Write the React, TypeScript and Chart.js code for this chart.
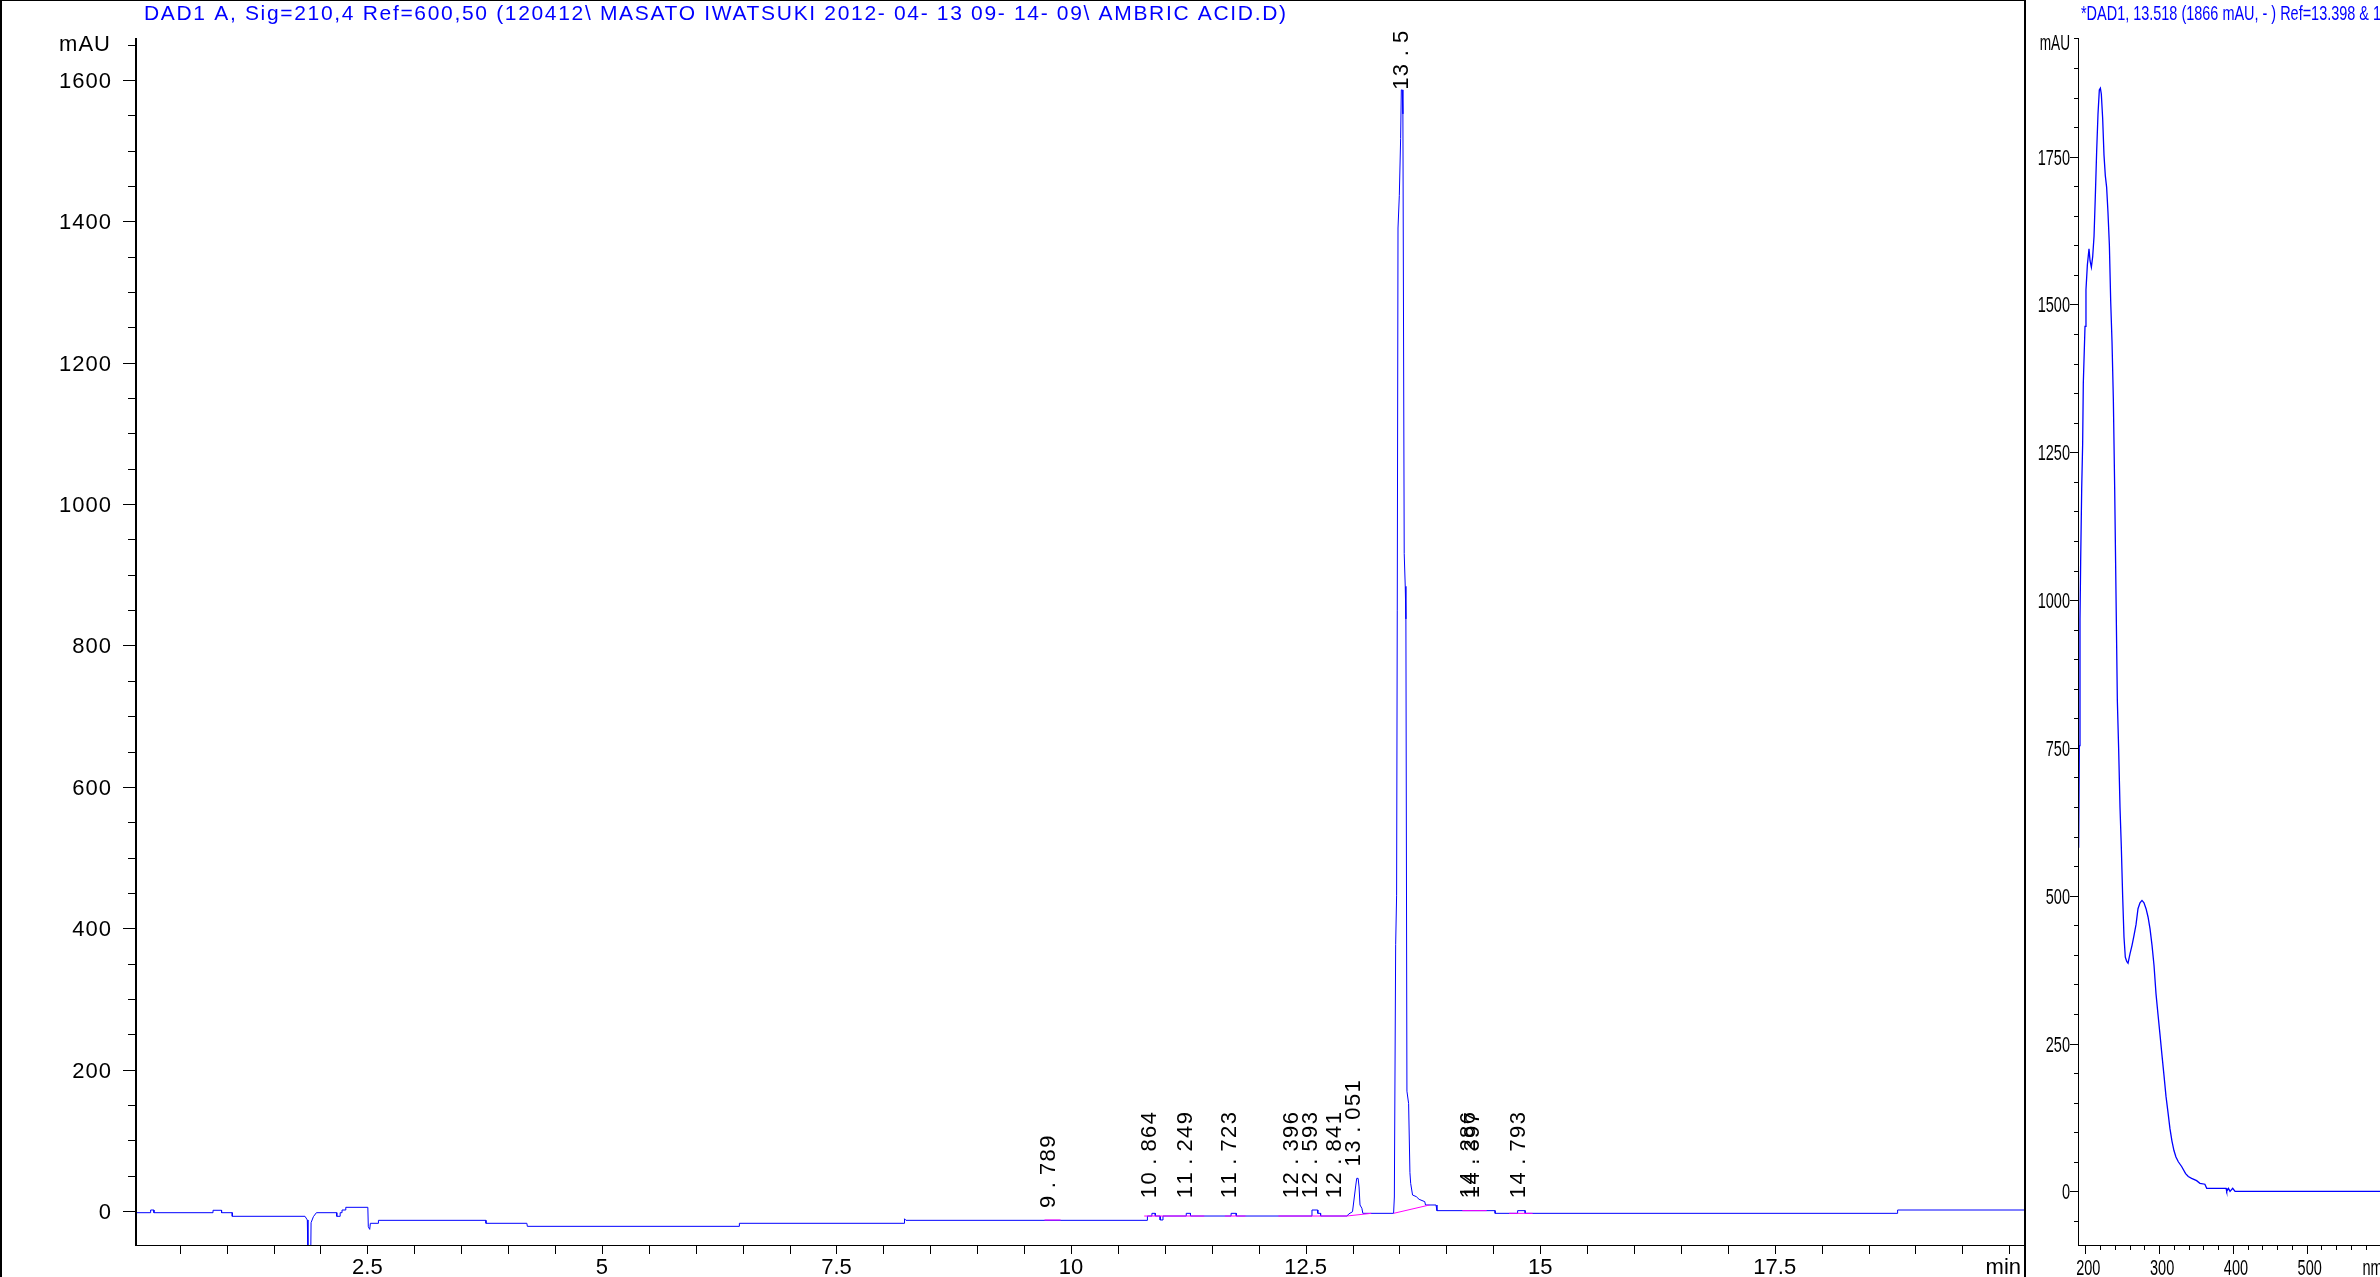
import React, { useEffect, useRef } from "react";
import { Chart, registerables } from "chart.js";

Chart.register(...registerables);

const FONT = '"Liberation Sans", Arial, sans-serif';
const BLUE = "#0000ff";
const PINK = "#ff00ff";

const chromTitle =
  "DAD1 A, Sig=210,4 Ref=600,50 (120412\\ MASATO IWATSUKI 2012- 04- 13 09- 14- 09\\ AMBRIC ACID.D)";
const specTitle = "*DAD1, 13.518 (1866 mAU, - ) Ref=13.398 & 1";

// Chromatogram (retention time in min, signal in mAU)
const chromTime = [
  0.034, 0.19, 0.19, 0.225, 0.225, 0.855, 0.855, 0.946, 0.946, 1.06,
  1.06, 1.835, 1.86, 1.867, 1.896, 1.9, 1.925, 1.957, 2.174, 2.174,
  2.21, 2.21, 2.23, 2.23, 2.27, 2.27, 2.505, 2.51, 2.525, 2.532,
  2.618, 2.618, 3.764, 3.764, 4.2, 4.205, 6.465, 6.465, 8.225, 8.225,
  8.24, 10.814, 10.814, 10.862, 10.862, 10.898, 10.898, 10.95, 10.95, 10.98,
  10.98, 11.228, 11.228, 11.273, 11.273, 11.706, 11.706, 11.761, 11.761, 12.568,
  12.568, 12.63, 12.63, 12.66, 12.66, 12.942, 12.96, 13.0, 13.034, 13.045,
  13.06, 13.07, 13.08, 13.1, 13.11, 13.438, 13.446, 13.46, 13.47, 13.477,
  13.485, 13.499, 13.513, 13.52, 13.53, 13.537, 13.551, 13.562, 13.569, 13.58,
  13.598, 13.612, 13.62, 13.64, 13.68, 13.71, 13.77, 13.778, 13.89, 13.9,
  14.52, 14.52, 14.76, 14.76, 14.84, 14.84, 18.81, 18.81, 20.157,
];
const chromSignal = [
  -2.4, -2.4, 1.4, 1.4, -2.4, -2.4, 1.0, 1.0, -2.4, -2.4,
  -7.5, -7.5, -12.7, -70, -70, -16.5, -8, -2.4, -2.4, -7.5,
  -7.5, -2.4, -2.4, 1.4, 1.4, 5.2, 5.2, -22.2, -26, -17.4,
  -17.4, -13.2, -13.2, -17.4, -17.4, -21.7, -21.7, -17.4, -17.4, -11,
  -13.2, -13.2, -7.1, -7.1, -3.3, -3.3, -7.1, -7.1, -12.7, -12.7,
  -7.1, -7.1, -3.3, -3.3, -7.1, -7.1, -3.3, -3.3, -7.1, -7.1,
  1.4, 1.4, -3.3, -3.3, -7.1, -7.1, -4.2, -1, 35.4, 46.2,
  46.2, 34, 8.5, 3.8, -3.3, -3.3, 19.8, 376.8, 445.9, 849,
  1390.6, 1436.7, 1517.3, 1586, 1586, 1552, 930, 883.7, 837.6, 169.5,
  152, 54.3, 39, 22.6, 20.3, 16.5, 13.2, 8.5, 8.5, 0.5,
  0.5, -3.3, -3.3, 0.5, 0.5, -3.3, -3.3, 1.4, 1.4,
];

// Integration baselines (null separates segments)
const baselineTime = [9.717, 9.889, null, 10.78, 11.42, null, 11.64, 11.86, null, 12.21, 12.94, 13.2, null, 13.438, 13.82, null, 14.17, 14.43, null, 14.67, 14.92];
const baselineSignal = [-12.7, -12.7, null, -7.1, -7.1, null, -7.1, -7.1, null, -7.1, -7.1, -3.3, null, -3.3, 8.5, null, 0.5, 0.5, null, -3.3, -3.3];

// Peak annotations
const peakLabels = ["9.789", "10.864", "11.249", "11.723", "12.396", "12.593", "12.841", "13.051", "13.518", "14.286", "14.397", "14.793"];
const peakLabelTime = [9.765, 10.839, 11.225, 11.694, 12.355, 12.558, 12.814, 13.016, 13.524, 14.246, 14.285, 14.778];
const peakLabelLevel = [4, 18, 18, 18, 18, 18, 18, 63, 1586, 18, 18, 18];

const chromYTicks = [0, 200, 400, 600, 800, 1000, 1200, 1400, 1600];
const chromXTicks = [2.5, 5, 7.5, 10, 12.5, 15, 17.5];
const chromXTickLabels = ["2.5", "5", "7.5", "10", "12.5", "15", "17.5"];

// UV spectrum at 13.518 min (wavelength nm, mAU)
const specWavelength = [
  191.0, 191.9, 192.8, 193.7, 195.1, 196.4, 197.3, 199.6, 200.9, 202.8,
  205.0, 206.4, 208.2, 210.0, 211.8, 213.6, 215.4, 217.2, 219.0, 220.4,
  221.7, 223.5, 225.3, 227.1, 228.9, 230.7, 232.6, 234.4, 236.2, 238.0,
  239.8, 241.6, 243.4, 245.2, 247.0, 248.8, 250.6, 252.4, 254.2, 256.1,
  257.9, 260.6, 263.3, 266.0, 268.7, 271.4, 274.1, 276.8, 279.5, 282.3,
  285.0, 287.7, 290.4, 293.1, 295.8, 298.5, 301.2, 303.9, 306.6, 309.3,
  312.0, 314.7, 317.4, 320.1, 322.8, 326.0, 330.5, 335.9, 339.5, 344.0,
  350.8, 355.3, 362.0, 364.5, 390.7, 391.6, 393.9, 396.1, 399.7, 402.9,
  620,
];
const specSignal = [
  581, 754, 967, 1064, 1188, 1264, 1367, 1463, 1525, 1567,
  1594, 1574, 1563, 1581, 1615, 1684, 1760, 1822, 1863, 1866,
  1856, 1815, 1753, 1718, 1698, 1656, 1601, 1505, 1436, 1339,
  1188, 1009, 830, 747, 650, 582, 499, 430, 396, 389,
  386, 402, 416, 433, 451, 478, 488, 492, 488, 478,
  464, 444, 416, 382, 334, 299, 265, 230, 196, 161,
  134, 106, 85, 69, 58, 50, 42, 30, 25, 22,
  18, 13.5, 12, 5, 5, 0, 5, 0, 5, 0,
  0,
];
const specYTicks = [0, 250, 500, 750, 1000, 1250, 1500, 1750];
const specXTicks = [200, 300, 400, 500];

function drawSpaced(ctx: any, text: string, x: number, y: number, align: string, spacing: number) {
  ctx.letterSpacing = "0px";
  const w0 = ctx.measureText(text).width;
  const n = Array.from(text).length;
  const w = w0 + spacing * (n - 1);
  let left = x;
  if (align === "right") left = x - w;
  else if (align === "center") left = x - w / 2;
  ctx.letterSpacing = spacing + "px";
  ctx.textAlign = "left";
  ctx.fillText(text, left, y);
  ctx.letterSpacing = "0px";
}

function drawFitted(ctx: any, text: string, x: number, y: number, width: number) {
  ctx.letterSpacing = "0px";
  const w0 = ctx.measureText(text).width;
  const n = Array.from(text).length;
  drawSpaced(ctx, text, x, y, "left", (width - w0) / (n - 1));
}

// horizontally condensed text (narrow glyphs)
function drawCondensed(ctx: any, text: string, x: number, y: number, align: string, sx: number) {
  ctx.save();
  ctx.letterSpacing = "0px";
  ctx.translate(x, y);
  ctx.scale(sx, 1);
  ctx.textAlign = align;
  ctx.fillText(text, 0, 0);
  ctx.restore();
}

function drawPeakLabel(ctx: any, text: string, x: number, yBottom: number) {
  ctx.save();
  ctx.translate(x, yBottom);
  ctx.rotate(-Math.PI / 2);
  ctx.textAlign = "center";
  ctx.textBaseline = "middle";
  let pos = 0;
  for (const ch of Array.from(text)) {
    if (ch === ".") {
      ctx.fillText(ch, pos + 9.5, 0);
      pos += 19.5;
    } else {
      ctx.fillText(ch, pos + 6.2, 0);
      pos += 13.6;
    }
  }
  ctx.restore();
}

const chromDecor = {
  id: "chromDecor",
  afterDraw(chart: any) {
    const ctx = chart.ctx;
    const a = chart.chartArea;
    const xs = chart.scales.x;
    const ys = chart.scales.y;
    ctx.save();
    ctx.fillStyle = "#000";
    ctx.fillRect(a.left - 1, a.top, 2, a.bottom - a.top + 1);
    ctx.fillRect(a.left, a.bottom, a.right - a.left, 1);
    for (let k = Math.ceil(ys.min / 50); k * 50 <= ys.max; k++) {
      const y = Math.round(ys.getPixelForValue(k * 50));
      const len = k % 4 === 0 ? 12 : 7;
      ctx.fillRect(a.left - 1 - len, y, len, 1);
    }
    for (let k = 1; k * 0.5 <= xs.max; k++) {
      const x = Math.round(xs.getPixelForValue(k * 0.5));
      if (x <= a.left) continue;
      ctx.fillRect(x, a.bottom + 1, 1, 8);
    }
    ctx.textBaseline = "alphabetic";
    ctx.font = `22px ${FONT}`;
    chromYTicks.forEach((v) => {
      const y = ys.getPixelForValue(v);
      drawSpaced(ctx, String(v), a.left - 25, y + 8, "right", 1);
    });
    drawSpaced(ctx, "mAU", a.left - 26, 51, "right", 1);
    chromXTicks.forEach((v, i) => {
      drawSpaced(ctx, chromXTickLabels[i], xs.getPixelForValue(v), a.bottom + 29, "center", 0);
    });
    drawSpaced(ctx, "min", a.right - 3, a.bottom + 29, "right", 0);

    ctx.fillStyle = BLUE;
    ctx.font = `21px ${FONT}`;
    drawFitted(ctx, chromTitle, 144, 20, 1142);

    ctx.fillStyle = "#000";
    ctx.beginPath();
    ctx.rect(0, 31, chart.width, chart.height);
    ctx.clip();
    ctx.font = `22px ${FONT}`;
    peakLabels.forEach((txt, i) => {
      const x = xs.getPixelForValue(peakLabelTime[i]);
      const y = ys.getPixelForValue(peakLabelLevel[i]);
      drawPeakLabel(ctx, txt, x, y);
    });
    ctx.restore();
  },
};

const specDecor = {
  id: "specDecor",
  afterDraw(chart: any) {
    const ctx = chart.ctx;
    const a = chart.chartArea;
    const xs = chart.scales.x;
    const ys = chart.scales.y;
    ctx.save();
    ctx.fillStyle = "#000";
    ctx.fillRect(Math.round(a.left), a.top, 1, a.bottom - a.top + 1);
    ctx.fillRect(a.left, a.bottom, a.right - a.left, 1);
    for (let k = Math.ceil(ys.min / 50); k * 50 <= ys.max; k++) {
      const y = Math.round(ys.getPixelForValue(k * 50));
      const len = k % 5 === 0 ? 8 : 4;
      ctx.fillRect(Math.round(a.left) - len, y, len, 1);
    }
    for (let k = Math.ceil(xs.min / 20); k * 20 <= xs.max; k++) {
      const x = Math.round(xs.getPixelForValue(k * 20));
      const len = k % 5 === 0 ? 8 : 4;
      ctx.fillRect(x, a.bottom + 1, 1, len);
    }
    ctx.textBaseline = "alphabetic";
    ctx.font = `22px ${FONT}`;
    const sx = 0.66;
    specYTicks.forEach((v) => {
      const y = ys.getPixelForValue(v);
      drawCondensed(ctx, String(v), a.left - 8, y + 8, "right", sx);
    });
    drawCondensed(ctx, "mAU", a.left - 8, 50, "right", 0.62);
    specXTicks.forEach((v) => {
      drawCondensed(ctx, String(v), xs.getPixelForValue(v) + 3, a.bottom + 30, "center", sx);
    });
    drawCondensed(ctx, "nm", xs.getPixelForValue(600) - 18, a.bottom + 30, "left", sx);

    ctx.fillStyle = BLUE;
    ctx.font = `21px ${FONT}`;
    ctx.letterSpacing = "0px";
    const tw = ctx.measureText(specTitle).width;
    drawCondensed(ctx, specTitle, 55, 19.5, "left", 300 / tw);
    ctx.restore();
  },
};

export default function App() {
  const leftRef = useRef<HTMLCanvasElement>(null);
  const rightRef = useRef<HTMLCanvasElement>(null);

  useEffect(() => {
    const segments: any[] = [];
    let cur: any[] = [];
    baselineTime.forEach((t, i) => {
      if (t === null || baselineSignal[i] === null) {
        if (cur.length) segments.push(cur);
        cur = [];
      } else {
        cur.push({ x: t, y: baselineSignal[i] });
      }
    });
    if (cur.length) segments.push(cur);

    const common = {
      responsive: false,
      animation: false,
      devicePixelRatio: 1,
      events: [],
      plugins: { legend: { display: false }, tooltip: { enabled: false }, title: { display: false } },
    };

    const c1 = new Chart(leftRef.current as HTMLCanvasElement, {
      type: "scatter",
      data: {
        datasets: [
          ...segments.map((seg) => ({
            data: seg,
            showLine: true,
            borderColor: PINK,
            backgroundColor: PINK,
            borderWidth: 1,
            pointRadius: 0,
            order: 0,
          })),
          {
            data: chromTime.map((t, i) => ({ x: t, y: chromSignal[i] })),
            showLine: true,
            borderColor: BLUE,
            backgroundColor: BLUE,
            borderWidth: 1,
            pointRadius: 0,
            order: 1,
          },
        ],
      },
      options: {
        ...common,
        layout: { padding: { left: 136, right: 0, top: 38, bottom: 32 } },
        scales: {
          x: { type: "linear", min: 0.034, max: 20.157, display: false },
          y: { type: "linear", min: -48.1, max: 1659.4, display: false },
        },
      } as any,
      plugins: [chromDecor],
    } as any);

    const c2 = new Chart(rightRef.current as HTMLCanvasElement, {
      type: "scatter",
      data: {
        datasets: [
          {
            data: specWavelength.map((w, i) => ({ x: w, y: specSignal[i] })),
            showLine: true,
            borderColor: BLUE,
            backgroundColor: BLUE,
            borderWidth: 1.3,
            pointRadius: 0,
          },
        ],
      },
      options: {
        ...common,
        layout: { padding: { left: 52, right: 10.7, top: 38, bottom: 32 } },
        scales: {
          x: { type: "linear", min: 190.1, max: 620, display: false },
          y: { type: "linear", min: -90.8, max: 1950.7, display: false },
        },
      } as any,
      plugins: [specDecor],
    } as any);

    return () => {
      c1.destroy();
      c2.destroy();
    };
  }, []);

  return (
    <div
      style={{
        position: "absolute",
        left: 0,
        top: 0,
        width: 2380,
        height: 1277,
        overflow: "hidden",
        background: "#fff",
      }}
    >
      <canvas
        ref={leftRef}
        width={2024}
        height={1277}
        style={{ position: "absolute", left: 0, top: 0, width: 2024, height: 1277 }}
      />
      <canvas
        ref={rightRef}
        width={380}
        height={1277}
        style={{ position: "absolute", left: 2026, top: 0, width: 380, height: 1277 }}
      />
      <div style={{ position: "absolute", left: 0, top: 0, width: 2, height: 1277, background: "#000" }} />
      <div style={{ position: "absolute", left: 0, top: 0, width: 2024, height: 1, background: "#000" }} />
      <div style={{ position: "absolute", left: 2024, top: 0, width: 2, height: 1277, background: "#000" }} />
    </div>
  );
}
